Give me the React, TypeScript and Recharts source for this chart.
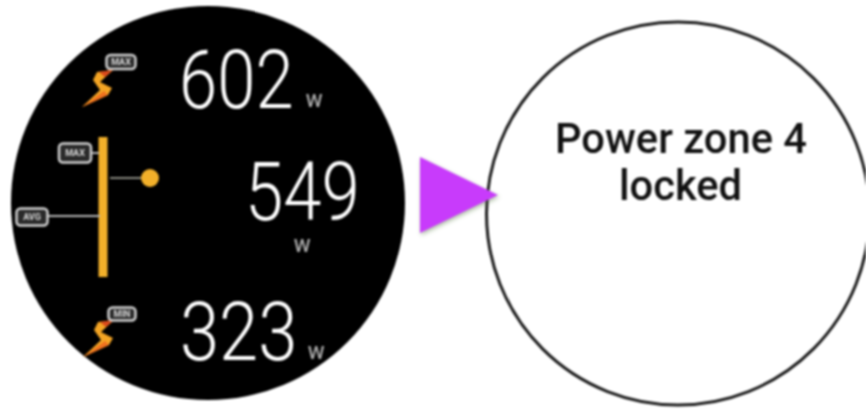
import { ComposedChart, Scatter, XAxis, YAxis } from 'recharts'

// everything is read in image pixels, so the hidden axes run over the whole picture
const xDomain = [0, 866]
const yDomain = [0, 410]

const faces = [
  { x: 208, y: 203, r: 197, fill: '#000000', stroke: 'none' },
  { x: 678, y: 213.5, r: 191.5, fill: '#ffffff', stroke: '#1c1c1c' },
]
const bolts = [{ x: 97, y: 89 }, { x: 98, y: 339 }]
const tags = [
  { x: 121, y: 62, w: 29, h: 14, text: 'MAX' },
  { x: 75, y: 153, w: 32, h: 19, text: 'MAX' },
  { x: 32, y: 217, w: 31, h: 17, text: 'AVG' },
  { x: 122, y: 314, w: 27, h: 13, text: 'MIN' },
]
const pointer = [{ x: 150, y: 178 }]
const arrow = [{ x: 420, y: 195 }]

const gaugeBar = [{ x: 103, y: 137 }, { x: 103, y: 277 }]
const pointerLink = [{ x: 110, y: 178 }, { x: 150, y: 178 }]
const maxLink = [{ x: 91, y: 153 }, { x: 99, y: 153 }]
const avgLink = [{ x: 47, y: 216 }, { x: 100, y: 216 }]

const readings = [
  { x: 179, y: 108, text: '602', squeeze: 0.84 },
  { x: 245, y: 220, text: '549', squeeze: 0.84 },
  { x: 180, y: 360, text: '323', squeeze: 0.86 },
]
const units = [
  { x: 314, y: 107, text: 'W' },
  { x: 302, y: 252, text: 'W' },
  { x: 316, y: 359, text: 'W' },
]
const messages = [
  { x: 555, y: 153, text: 'Power zone 4', len: 252 },
  { x: 619, y: 200, text: 'locked', len: 123 },
]

const noMark = () => null

function Face(p: any) {
  return <circle cx={p.cx} cy={p.cy} r={p.payload.r} fill={p.payload.fill} stroke={p.payload.stroke} strokeWidth={3} />
}

function Bolt(p: any) {
  const pts = '0,-17 16,-19 3,-7 15,-1 11,6 -15,18 3,1 -4,-9'
  return (
    <g transform={`translate(${p.cx},${p.cy})`}>
      <polygon points={pts} fill="#f4a524" />
      <path d="M2,-17 L16,-19 L8,-12 Z" fill="#d9481c" />
      <path d="M-15,18 L11,6 L7,2 Z" fill="#f0701f" />
    </g>
  )
}

function Tag(p: any) {
  const { w, h, text } = p.payload
  return (
    <g>
      <rect x={p.cx - w / 2} y={p.cy - h / 2} width={w} height={h} rx={4} fill="#2a2a2a" stroke="#d0d0d0" strokeWidth={2.5} />
      <text x={p.cx} y={p.cy + 3} textAnchor="middle" fontSize={9} fontFamily="Roboto" fontWeight={700} fill="#d8d8d8">{text}</text>
    </g>
  )
}

function Pointer(p: any) {
  return <circle cx={p.cx} cy={p.cy} r={9} fill="#f2b02a" />
}

function Arrow(p: any) {
  return <polygon points={`${p.cx},${p.cy - 38} ${p.cx + 78},${p.cy} ${p.cx},${p.cy + 38}`} fill="#c83bfb" style={{ filter: 'drop-shadow(1px 2px 2px rgba(70,110,50,0.45))' }} />
}

function Reading(p: any) {
  return (
    <text transform={`translate(${p.cx},${p.cy}) scale(${p.payload.squeeze},1)`} fontFamily="Roboto" fontWeight={300} fontSize={82} fill="#ffffff">
      {p.payload.text}
    </text>
  )
}

function Unit(p: any) {
  return <text x={p.cx} y={p.cy} fontFamily="Roboto" fontSize={19} fontWeight={500} fill="#b0b0b0" textAnchor="middle">{p.payload.text}</text>
}

function Message(p: any) {
  return (
    <text x={p.cx} y={p.cy} fontFamily="Roboto" fontWeight={500} fontSize={42} fill="#111111" textLength={p.payload.len} lengthAdjust="spacingAndGlyphs">
      {p.payload.text}
    </text>
  )
}

export default function App() {
  return (
    <div style={{ position: 'absolute', left: 0, top: 0, width: 866, height: 410, overflow: 'hidden', background: '#fff', filter: 'blur(0.8px)' }}>
      <ComposedChart width={866} height={410} margin={{ top: 0, right: 0, bottom: 0, left: 0 }}>
        <XAxis hide type="number" dataKey="x" domain={xDomain} />
        <YAxis hide type="number" dataKey="y" domain={yDomain} reversed />
        <Scatter data={faces} shape={Face} isAnimationActive={false} />
        <Scatter data={gaugeBar} shape={noMark} line={{ stroke: '#f2b02a', strokeWidth: 9 }} isAnimationActive={false} />
        <Scatter data={pointerLink} shape={noMark} line={{ stroke: '#8a8a80', strokeWidth: 2 }} isAnimationActive={false} />
        <Scatter data={maxLink} shape={noMark} line={{ stroke: '#b5b5b5', strokeWidth: 2 }} isAnimationActive={false} />
        <Scatter data={avgLink} shape={noMark} line={{ stroke: '#b5b5b5', strokeWidth: 2 }} isAnimationActive={false} />
        <Scatter data={bolts} shape={Bolt} isAnimationActive={false} />
        <Scatter data={tags} shape={Tag} isAnimationActive={false} />
        <Scatter data={pointer} shape={Pointer} isAnimationActive={false} />
        <Scatter data={arrow} shape={Arrow} isAnimationActive={false} />
        <Scatter data={readings} shape={Reading} isAnimationActive={false} />
        <Scatter data={units} shape={Unit} isAnimationActive={false} />
        <Scatter data={messages} shape={Message} isAnimationActive={false} />
      </ComposedChart>
    </div>
  )
}
